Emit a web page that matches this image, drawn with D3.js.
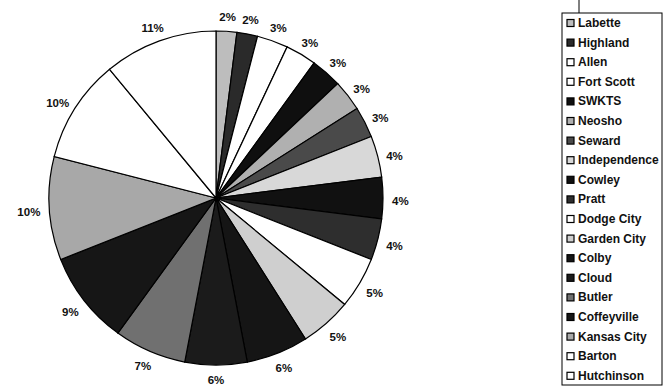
<!DOCTYPE html>
<html>
<head>
<meta charset="utf-8">
<script src="https://d3js.org/d3.v7.min.js"></script>
<style>
  body { margin: 0; background: #fff; }
  text { font-family: "Liberation Sans", Arial, sans-serif; font-weight: bold; fill: #111; }
</style>
</head>
<body>
<div id="pie_chart"></div>
<script>

// colleges, share of the total (percent), and the grey each slice was printed in
const colleges = ["Labette", "Highland", "Allen", "Fort Scott", "SWKTS", "Neosho", "Seward",
  "Independence", "Cowley", "Pratt", "Dodge City", "Garden City", "Colby", "Cloud",
  "Butler", "Coffeyville", "Kansas City", "Barton", "Hutchinson"]
const shares = [2, 2, 3, 3, 3, 3, 3, 4, 4, 4, 5, 5, 6, 6, 7, 9, 10, 10, 11]
const greys = ["#bdbdbd", "#2a2a2a", "#ffffff", "#ffffff", "#0f0f0f", "#b0b0b0", "#4a4a4a",
  "#d8d8d8", "#111111", "#2e2e2e", "#ffffff", "#cfcfcf", "#151515", "#1b1b1b",
  "#707070", "#161616", "#a8a8a8", "#ffffff", "#ffffff"]

const width = 664
const height = 387

const data = colleges.map((c, i) => ({ name: c, value: shares[i], fill: greys[i] }))

const svg = d3.select("#pie_chart")
  .append("svg")
    .attr("width", width)
    .attr("height", height)

// pie in the left part
const cx = 216, cy = 198, radius = 167

const pie = d3.pie()
  .value(d => d.value)
  .sort(null)

const arc = d3.arc()
  .innerRadius(0)
  .outerRadius(radius)

const g = svg.append("g")
  .attr("transform", `translate(${cx},${cy})`)

const arcs = pie(data)

g.selectAll("path")
  .data(arcs)
  .join("path")
    .attr("d", arc)
    .attr("fill", d => d.data.fill)
    .attr("stroke", "#000")
    .attr("stroke-width", 1.2)

// percentage labels just outside the rim, box pushed away from the pie
const labelR = 176
g.selectAll("text.pct")
  .data(arcs)
  .join("text")
    .attr("class", "pct")
    .style("font-size", "11.5px")
    .attr("text-anchor", "middle")
    .attr("dominant-baseline", "central")
    .text(d => d.data.value + "%")
    .each(function(d) {
      const a = (d.startAngle + d.endAngle) / 2
      const w = this.getComputedTextLength(), h = 12
      const x = (labelR + w / 2) * Math.sin(a)
      const y = -labelR * Math.cos(a) - h / 2 * Math.cos(a)
      // side labels sit a touch lower in the original, the bottom one must stay in view
      d3.select(this).attr("x", x).attr("y", y + 3 * Math.abs(Math.sin(a)))
    })

// little tick above the legend
svg.append("line")
  .attr("x1", 579).attr("x2", 579)
  .attr("y1", 0).attr("y2", 13)
  .attr("stroke", "#000")

// legend
const legendX = 562, legendY = 13, rowH = 19.6
svg.append("rect")
  .attr("x", legendX).attr("y", legendY)
  .attr("width", 100).attr("height", 372)
  .attr("fill", "#fff")
  .attr("stroke", "#000")

const items = svg.append("g")
  .selectAll("g")
  .data(data)
  .join("g")
    .attr("transform", (d, i) => `translate(${legendX + 5},${legendY + 10 + i * rowH})`)

items.append("rect")
  .attr("x", 0).attr("y", -3.5)
  .attr("width", 7).attr("height", 7)
  .attr("fill", d => d.fill)
  .attr("stroke", "#000")
  .attr("stroke-width", 1.2)

items.append("text")
  .attr("x", 11)
  .attr("dominant-baseline", "central")
  .style("font-size", "12px")
  .text(d => d.name)

</script>
</body>
</html>
